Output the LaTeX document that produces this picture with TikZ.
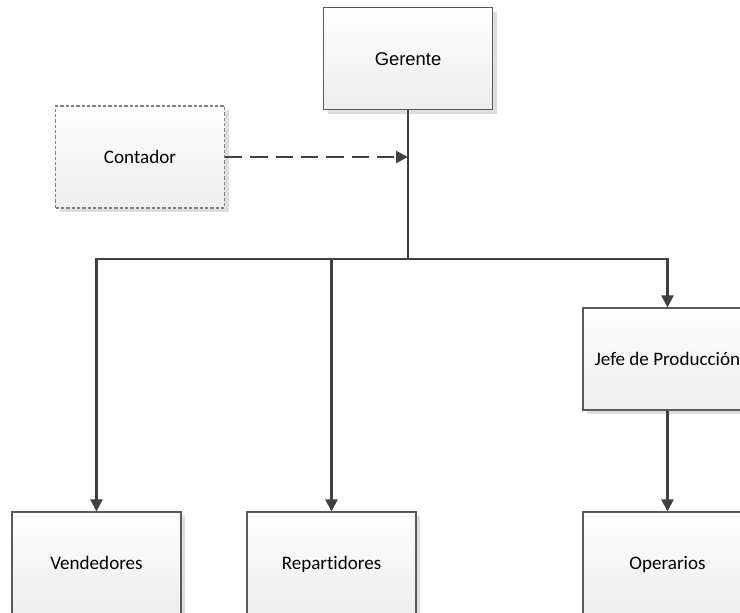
\documentclass[tikz,border=0pt]{standalone}
\usepackage{fontspec}
\setmainfont{Carlito}[Ligatures=NoCommon]
\newfontfamily\arialfont{Liberation Sans}
\usetikzlibrary{arrows.meta,shadows}
\definecolor{linec}{HTML}{404040}
\definecolor{boxline}{HTML}{5A5A5A}
\tikzset{
  orgbox/.style={rectangle, draw=boxline, line width=0.8pt,
    top color=white, bottom color=black!7,
    minimum width=126.75pt, minimum height=76.5pt, inner sep=0pt,
    text height=10pt, text depth=0pt,
    font=\fontsize{14.3}{16}\selectfont,
    drop shadow={shadow xshift=3pt, shadow yshift=-3pt, fill=black!13, opacity=1}},
  dashbox/.style={orgbox, draw=black!50, dash pattern=on 2.5pt off 1.5pt},
  conn/.style={draw=linec, line width=1.6pt, -{Triangle[width=9pt,length=9pt]}},
  plainconn/.style={draw=linec, line width=1.6pt},
  dconn/.style={draw=linec, line width=1.6pt, dash pattern=on 13pt off 6pt, -{Triangle[width=9pt,length=9pt]}}
}
\begin{document}
\begin{tikzpicture}[x=0.75pt,y=-0.75pt]
\useasboundingbox (0,0) rectangle (740,612);
\clip (0,0) rectangle (740,612);
\node[orgbox, font=\arialfont\fontsize{13.8}{16}\selectfont] (ger) at (408,58.5) {Gerente};
\node[dashbox] (cont) at (140,157) {Contador};
\node[orgbox] (jefe) at (667.5,359) {Jefe de Producción};
\node[orgbox] (vend) at (96.5,563) {Vendedores};
\node[orgbox] (rep) at (331.5,563) {Repartidores};
\node[orgbox] (oper) at (667.5,563) {Operarios};
\coordinate (j) at (408,259);
\coordinate (h) at (408,157);
\draw[plainconn] (ger.south) -- (j);
\draw[conn] (j) -| (vend.north);
\draw[conn] (j) -| (rep.north);
\draw[conn] (j) -| (jefe.north);
\draw[conn] (jefe.south) -- (oper.north);
\draw[dconn] (cont.east) -- (h);
\end{tikzpicture}
\end{document}
